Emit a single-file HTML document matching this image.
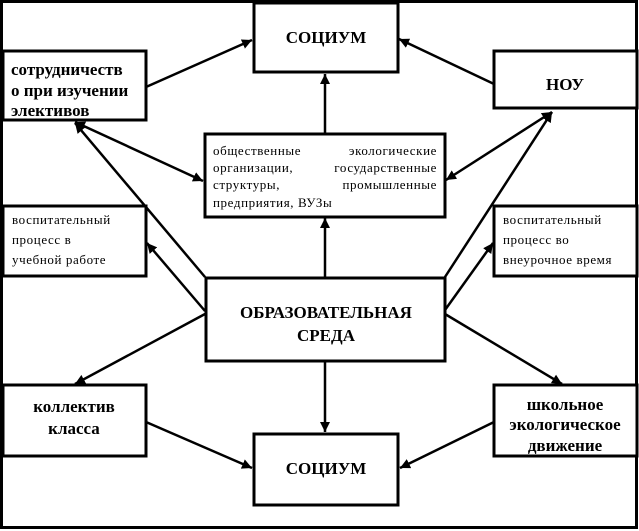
<!DOCTYPE html>
<html><head><meta charset="utf-8"><style>
body{margin:0;background:#fff}
svg{display:block}
.b{font-family:"Liberation Serif",serif;font-weight:bold;font-size:17px}
.s{font-family:"Liberation Serif",serif;font-size:13px;letter-spacing:0.6px}
</style></head><body>
<svg width="639" height="531" viewBox="0 0 639 531" xmlns="http://www.w3.org/2000/svg">
<defs><marker id="a" viewBox="0 0 10 10" refX="10" refY="5" markerWidth="4" markerHeight="4" orient="auto-start-reverse"><path d="M0,0L10,5L0,10z" fill="#000"/></marker></defs>
<rect x="1.5" y="1.5" width="635" height="526" fill="#fff" stroke="#000" stroke-width="3"/>
<g fill="#fff" stroke="#000" stroke-width="3">
<rect x="254" y="3" width="144" height="69"/>
<rect x="3" y="51" width="143" height="69"/>
<rect x="494" y="51" width="143" height="57"/>
<rect x="205" y="134" width="240" height="83"/>
<rect x="3" y="206" width="143" height="70"/>
<rect x="494" y="206" width="143" height="70"/>
<rect x="206" y="278" width="239" height="83"/>
<rect x="3" y="385" width="143" height="71"/>
<rect x="494" y="385" width="143" height="71"/>
<rect x="254" y="434" width="144" height="71"/>
</g>
<g stroke="#000" stroke-width="2.5" fill="none">
<line x1="146" y1="87" x2="252" y2="40" marker-end="url(#a)"/>
<line x1="494" y1="84" x2="399" y2="39" marker-end="url(#a)"/>
<line x1="325" y1="134" x2="325" y2="74" marker-end="url(#a)"/>
<line x1="325" y1="277" x2="325" y2="218" marker-end="url(#a)"/>
<line x1="75" y1="122" x2="203" y2="181" marker-start="url(#a)" marker-end="url(#a)"/>
<line x1="552" y1="112" x2="446" y2="180" marker-start="url(#a)" marker-end="url(#a)"/>
<line x1="205" y1="277" x2="75" y2="123" marker-end="url(#a)"/>
<line x1="445" y1="277" x2="552" y2="112" marker-end="url(#a)"/>
<line x1="205" y1="311" x2="147" y2="243" marker-end="url(#a)"/>
<line x1="445" y1="310" x2="493" y2="243" marker-end="url(#a)"/>
<line x1="205" y1="314" x2="75" y2="384" marker-end="url(#a)"/>
<line x1="445" y1="314" x2="562" y2="384" marker-end="url(#a)"/>
<line x1="146" y1="422" x2="252" y2="468" marker-end="url(#a)"/>
<line x1="494" y1="422" x2="400" y2="468" marker-end="url(#a)"/>
<line x1="325" y1="361" x2="325" y2="432" marker-end="url(#a)"/>
</g>
<g class="b" text-anchor="middle">
<text x="326" y="43">СОЦИУМ</text>
<text x="565" y="90">НОУ</text>
<text x="326" y="318">ОБРАЗОВАТЕЛЬНАЯ</text>
<text x="326" y="341">СРЕДА</text>
<text x="74" y="412">коллектив</text>
<text x="74" y="434">класса</text>
<text x="565" y="410">школьное</text>
<text x="565" y="430">экологическое</text>
<text x="565" y="451">движение</text>
<text x="326" y="474">СОЦИУМ</text>
</g>
<g class="b">
<text x="11" y="75">сотрудничеств</text>
<text x="11" y="96">о при изучении</text>
<text x="11" y="116">элективов</text>
</g>
<g class="s">
<text x="12" y="224">воспитательный</text>
<text x="12" y="244">процесс в</text>
<text x="12" y="264">учебной работе</text>
<text x="503" y="224">воспитательный</text>
<text x="503" y="244">процесс во</text>
<text x="503" y="264">внеурочное время</text>
<text x="213" y="155">общественные</text>
<text x="437" y="155" text-anchor="end">экологические</text>
<text x="213" y="172">организации,</text>
<text x="437" y="172" text-anchor="end">государственные</text>
<text x="213" y="189">структуры,</text>
<text x="437" y="189" text-anchor="end">промышленные</text>
<text x="213" y="207">предприятия, ВУЗы</text>
</g>
</svg>
</body></html>
